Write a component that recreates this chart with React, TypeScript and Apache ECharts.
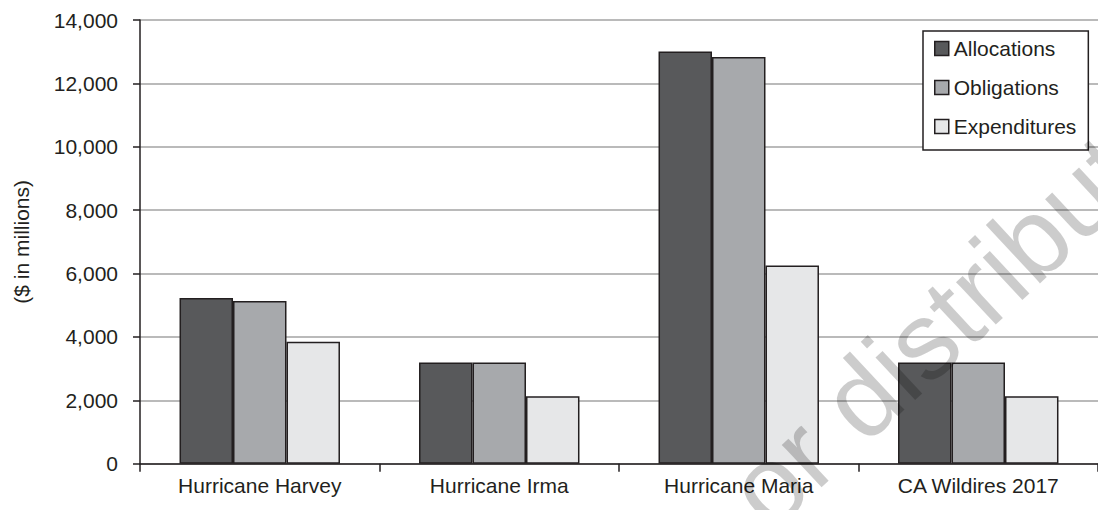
import React, { useEffect, useRef } from "react";
import * as echarts from "echarts";

const categories = ["Hurricane Harvey", "Hurricane Irma", "Hurricane Maria", "CA Wildires 2017"];
const seriesNames = ["Allocations", "Obligations", "Expenditures"];
const allocations = [5230, 3195, 13010, 3195];
const obligations = [5135, 3195, 12835, 3195];
const expenditures = [3845, 2125, 6255, 2125];
const seriesColors = ["#58595b", "#a7a9ac", "#e6e7e8"];
const yMin = 0;
const yMax = 14000;
const yStep = 2000;
const yAxisTitle = "($ in millions)";
const watermarkText = "or distribute";

const INK = "#231f20";
const FONT = "'Liberation Sans', Arial, Helvetica, sans-serif";

export default function App() {
  const ref = useRef<HTMLDivElement>(null);
  useEffect(() => {
    if (!ref.current) return;
    const chart = echarts.init(ref.current, undefined, { renderer: "svg" });
    const values = [allocations, obligations, expenditures];
    const ang = (43 * Math.PI) / 180;
    chart.setOption({
      animation: false,
      backgroundColor: "#ffffff",
      textStyle: { fontFamily: FONT },
      grid: { left: 140, right: -11, top: 20, bottom: 46.3 },
      legend: {
        orient: "vertical",
        left: 923,
        top: 31,
        padding: [7, 12, 13, 11],
        itemGap: 18,
        itemWidth: 14,
        itemHeight: 14,
        icon: "rect",
        backgroundColor: "#ffffff",
        borderColor: INK,
        borderWidth: 1.5,
        borderRadius: 0,
        data: seriesNames,
        textStyle: { color: INK, fontSize: 21, fontFamily: FONT },
        itemStyle: { borderColor: INK, borderWidth: 1.5 },
      },
      xAxis: {
        type: "category",
        data: categories,
        boundaryGap: true,
        axisLine: { show: true, lineStyle: { color: INK, width: 1.5 } },
        axisTick: { show: true, length: 8, alignWithLabel: false, lineStyle: { color: INK, width: 1.5 } },
        axisLabel: { color: INK, fontSize: 21, margin: 11, fontFamily: FONT, interval: 0 },
        splitLine: { show: false },
      },
      yAxis: {
        type: "value",
        min: yMin,
        max: yMax,
        interval: yStep,
        name: yAxisTitle,
        nameLocation: "middle",
        nameGap: 108,
        nameRotate: 90,
        nameTextStyle: { color: INK, fontSize: 21, fontFamily: FONT },
        axisLine: { show: true, lineStyle: { color: INK, width: 1.5 } },
        axisTick: { show: true, length: 7, inside: false, lineStyle: { color: INK, width: 1.5 } },
        axisLabel: {
          color: INK,
          fontSize: 21,
          margin: 22,
          fontFamily: FONT,
          formatter: (v: number) => v.toLocaleString("en-US"),
        },
        splitLine: { show: true, lineStyle: { color: "#a3a3a3", width: 1.5 } },
      },
      series: seriesNames.map((name, i) => ({
        name,
        type: "bar",
        data: values[i],
        barGap: "0%",
        barCategoryGap: "33%",
        itemStyle: { color: seriesColors[i], borderColor: INK, borderWidth: 1.5 },
      })),
      graphic: [
        {
          type: "text",
          x: 745,
          y: 506,
          rotation: ang,
          z: 100,
          silent: true,
          style: {
            text: watermarkText,
            fontSize: 110,
            fontFamily: FONT,
            fill: "rgba(0,0,0,0.2)",
            textAlign: "left",
            textVerticalAlign: "middle",
          },
        },
      ],
    });
    return () => chart.dispose();
  }, []);
  return (
    <div
      ref={ref}
      style={{ position: "fixed", left: 0, top: 0, width: 1098, height: 510, background: "#fff" }}
    />
  );
}
